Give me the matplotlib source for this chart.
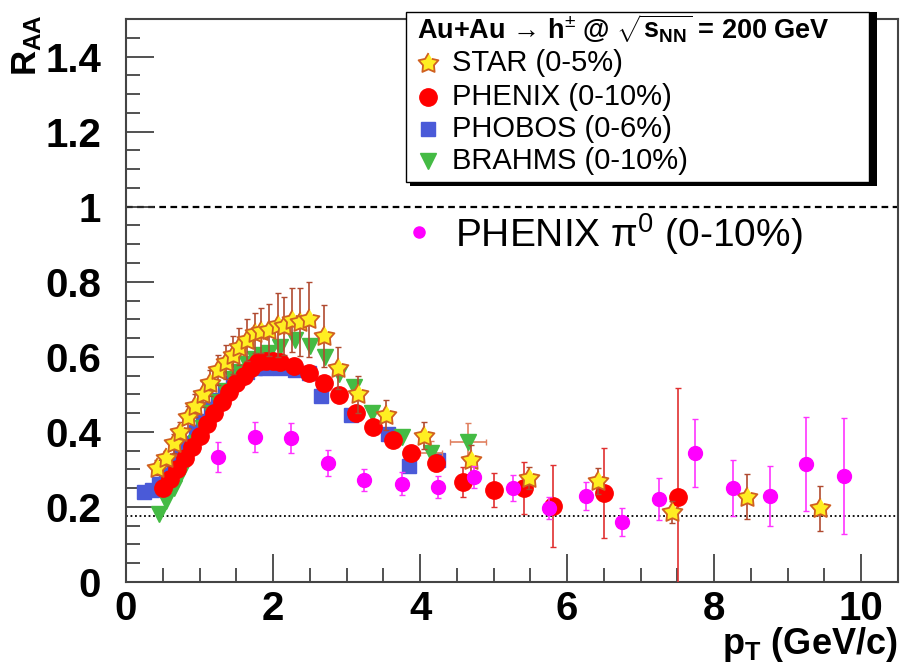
import matplotlib
matplotlib.use("Agg")
import numpy as np
import matplotlib.pyplot as plt
from matplotlib.lines import Line2D
from matplotlib.patches import Rectangle
from matplotlib.ticker import MultipleLocator

plt.rcParams['font.family'] = ['Liberation Sans', 'DejaVu Sans']
plt.rcParams['mathtext.fontset'] = 'custom'
plt.rcParams['mathtext.rm'] = 'Liberation Sans'
plt.rcParams['mathtext.it'] = 'Liberation Sans:italic'
plt.rcParams['mathtext.bf'] = 'Liberation Sans:bold'

# STAR (0-5%)
star_x = [0.42, 0.54, 0.65, 0.74, 0.84, 0.94, 1.05, 1.14, 1.25, 1.36, 1.46, 1.54, 1.65, 1.75, 1.84, 1.94,
          2.07, 2.15, 2.26, 2.36, 2.49, 2.69, 2.88, 3.15, 3.54, 4.05, 4.69, 5.48, 6.42, 7.43, 8.44, 9.44]
star_y = [0.305, 0.33, 0.37, 0.40, 0.44, 0.47, 0.50, 0.53, 0.565, 0.587, 0.605, 0.627, 0.645, 0.664, 0.669, 0.672,
          0.685, 0.683, 0.699, 0.693, 0.70, 0.656, 0.571, 0.50, 0.445, 0.39, 0.325, 0.277, 0.27, 0.187, 0.227, 0.197]
star_err = [0.02, 0.02, 0.025, 0.025, 0.03, 0.03, 0.035, 0.035, 0.04, 0.045, 0.05, 0.05, 0.055, 0.053, 0.06, 0.07,
            0.085, 0.077, 0.085, 0.09, 0.1, 0.083, 0.056, 0.05, 0.04, 0.035, 0.04, 0.03, 0.035, 0.03, 0.06, 0.06]

# PHENIX h+- (0-10%)
phx_x = [0.5, 0.6, 0.7, 0.8, 0.9, 1.0, 1.1, 1.2, 1.3, 1.4, 1.5, 1.6, 1.7, 1.8, 1.9, 2.0, 2.1,
         2.29, 2.49, 2.69, 2.9, 3.13, 3.36, 3.63, 3.88, 4.22, 4.58, 5.0, 5.41, 5.81, 6.5, 7.51]
phx_y = [0.25, 0.275, 0.30, 0.33, 0.36, 0.39, 0.42, 0.45, 0.48, 0.505, 0.53, 0.55, 0.57, 0.585, 0.59, 0.59, 0.585,
         0.576, 0.557, 0.53, 0.499, 0.45, 0.414, 0.379, 0.344, 0.317, 0.267, 0.245, 0.25, 0.203, 0.237, 0.227]
phx_err = [0.005, 0.005, 0.005, 0.005, 0.005, 0.005, 0.005, 0.005, 0.005, 0.005, 0.005, 0.005, 0.005, 0.005, 0.005,
           0.005, 0.005, 0.005, 0.005, 0.005, 0.005, 0.008, 0.01, 0.012, 0.015, 0.02, 0.04, 0.045, 0.07, 0.11, 0.12, 0.29]

# PHOBOS (0-6%)
phb_x = [0.25, 0.35, 0.45, 0.55, 0.65, 0.75, 0.85, 0.95, 1.05, 1.15, 1.25, 1.35, 1.45, 1.55, 1.65, 1.75,
         1.9, 2.1, 2.3, 2.49, 2.65, 3.06, 3.56, 3.85, 4.25]
phb_y = [0.24, 0.245, 0.26, 0.285, 0.31, 0.34, 0.37, 0.40, 0.43, 0.46, 0.485, 0.51, 0.53, 0.55, 0.56, 0.57,
         0.57, 0.57, 0.565, 0.557, 0.495, 0.445, 0.395, 0.31, 0.325]

# BRAHMS (0-10%)
brm_x = [0.45, 0.55, 0.65, 0.75, 0.85, 0.95, 1.05, 1.15, 1.25, 1.35, 1.45, 1.55, 1.65, 1.75, 1.85, 1.95,
         2.1, 2.3, 2.5, 2.7, 2.9, 3.1, 3.35, 3.75, 4.15, 4.65]
brm_y = [0.18, 0.215, 0.25, 0.29, 0.33, 0.37, 0.41, 0.45, 0.48, 0.51, 0.54, 0.56, 0.58, 0.595, 0.605, 0.61,
         0.625, 0.645, 0.63, 0.60, 0.555, 0.52, 0.45, 0.385, 0.345, 0.373]
brm_xerr = [0] * 24 + [0.15, 0.25]
brm_yerr = [0] * 24 + [0.03, 0.05]

# PHENIX pi0 (0-10%)
pi0_x = [1.25, 1.75, 2.24, 2.75, 3.24, 3.75, 4.24, 4.73, 5.26, 5.76, 6.26, 6.75, 7.25, 7.74, 8.26, 8.76, 9.25, 9.77]
pi0_y = [0.333, 0.387, 0.384, 0.318, 0.272, 0.262, 0.253, 0.28, 0.251, 0.197, 0.229, 0.16, 0.221, 0.344, 0.251,
         0.229, 0.315, 0.283]
pi0_err = [0.04, 0.04, 0.04, 0.035, 0.03, 0.03, 0.03, 0.03, 0.035, 0.03, 0.037, 0.037, 0.056, 0.09, 0.075, 0.08,
           0.125, 0.155]

legend_labels = ['STAR (0-5%)', 'PHENIX (0-10%)', 'PHOBOS (0-6%)', 'BRAHMS (0-10%)']
xticks = [0, 2, 4, 6, 8, 10]
yticks = [0, 0.2, 0.4, 0.6, 0.8, 1.0, 1.2, 1.4]
ytick_labels = ['0', '0.2', '0.4', '0.6', '0.8', '1', '1.2', '1.4']

# fat ROOT-like star marker
ang = np.pi / 2 + np.arange(10) * np.pi / 5
rad = np.where(np.arange(10) % 2 == 0, 1.0, 0.55)
star_mk = list(zip(rad * np.cos(ang), rad * np.sin(ang)))

W, H = 900, 666
fig = plt.figure(figsize=(9, 6.66), dpi=100)
ax = fig.add_axes([126 / W, 1 - 582 / H, (898 - 126) / W, (582 - 19) / H])
ax.set_xlim(0, 10.5)
ax.set_ylim(0, 1.5)

ax.axhline(1.0, color='black', ls=(0, (3, 2)), lw=1.6, zorder=1)
ax.axhline(0.175, color='black', ls=(0, (1, 1.5)), lw=1.3, zorder=1)

ax.plot(phb_x, phb_y, 's', color='#4a5ad8', ms=10, zorder=2)
ax.errorbar(brm_x, brm_y, xerr=brm_xerr, yerr=brm_yerr, fmt='v', color='#44bb44', ms=12,
            ecolor='#e08060', elinewidth=1.2, capsize=2, zorder=3)
ax.errorbar(phx_x, phx_y, yerr=phx_err, fmt='o', color='red', ms=12.5, ecolor='#e03030',
            elinewidth=1.2, capsize=2, zorder=4)
ax.errorbar(star_x, star_y, yerr=star_err, fmt='none', ecolor='#b04a30', elinewidth=1.2, capsize=2, zorder=5)
ax.plot(star_x, star_y, ls='none', marker=star_mk, mfc='#ffee22', mec='#d06020', mew=1.3, ms=15, zorder=5)
ax.errorbar(pi0_x, pi0_y, yerr=pi0_err, fmt='o', color='#ff00ff', ms=10, ecolor='#ff33ff',
            elinewidth=1.2, capsize=2, zorder=6)

ax.xaxis.set_major_locator(MultipleLocator(2))
ax.xaxis.set_minor_locator(MultipleLocator(0.5))
ax.yaxis.set_major_locator(MultipleLocator(0.2))
ax.yaxis.set_minor_locator(MultipleLocator(0.05))
ax.set_xticks(xticks)
ax.set_yticks(yticks)
ax.set_yticklabels(ytick_labels)
ax.tick_params(which='both', direction='in', top=False, right=False, width=1.2, colors='#333333')
ax.tick_params(which='major', length=20)
ax.tick_params(which='minor', length=10)
ax.tick_params(axis='y', pad=18, labelsize=29, labelcolor='black')
ax.tick_params(axis='x', pad=6, labelsize=29, labelcolor='black')
for lab in ax.get_xticklabels() + ax.get_yticklabels():
    lab.set_fontweight('bold')
for sp in ax.spines.values():
    sp.set_linewidth(1.5)
    sp.set_color('#444444')

# axis titles
fig.text(27 / W, 1 - 14 / H, r'R$_{\mathbf{AA}}$', rotation=90, ha='center', va='top',
         fontsize=25, fontweight='bold')
fig.text(898 / W, 1 - 644 / H, r'p$_{\mathbf{T}}$ (GeV/c)', ha='right', va='center',
         fontsize=26, fontweight='bold')

# legend box with shadow
fig.add_artist(Rectangle((410 / W, 1 - 186 / H), (873 - 406) / W, (186 - 12) / H,
                         transform=fig.transFigure, facecolor='black', edgecolor='none', zorder=10))
fig.add_artist(Rectangle((406 / W, 1 - 182 / H), (869 - 406) / W, (182 - 12) / H,
                         transform=fig.transFigure, facecolor='white', edgecolor='black', lw=1, zorder=11))
fig.text(417 / W, 1 - 29 / H,
         r'Au+Au → h$^{\pm}$ @ $\sqrt{\mathbf{s}_{\mathbf{NN}}}$ = 200 GeV',
         ha='left', va='center', fontsize=19.5, fontweight='bold', zorder=12)

leg_y = [63, 97, 129, 161]
leg_styles = [dict(marker=star_mk, mfc='#ffee22', mec='#d06020', mew=1.3, ms=15),
              dict(marker='o', mfc='red', mec='red', ms=12.5),
              dict(marker='s', mfc='#4a5ad8', mec='#4a5ad8', ms=10),
              dict(marker='v', mfc='#44bb44', mec='#44bb44', ms=12)]
for py, lab, st in zip(leg_y, legend_labels, leg_styles):
    fig.add_artist(Line2D([428 / W], [1 - py / H], transform=fig.transFigure, ls='none', zorder=12, **st))
    fig.text(452 / W, 1 - py / H, lab, ha='left', va='center', fontsize=21, zorder=12)

fig.add_artist(Line2D([419 / W], [1 - 232 / H], transform=fig.transFigure, ls='none', marker='o',
                      mfc='#ff00ff', mec='#ff00ff', ms=8, zorder=12))
fig.text(455 / W, 1 - 234 / H, r'PHENIX π$^0$ (0-10%)', ha='left', va='center', fontsize=28, zorder=12)

fig.savefig('out.png', dpi=100)
